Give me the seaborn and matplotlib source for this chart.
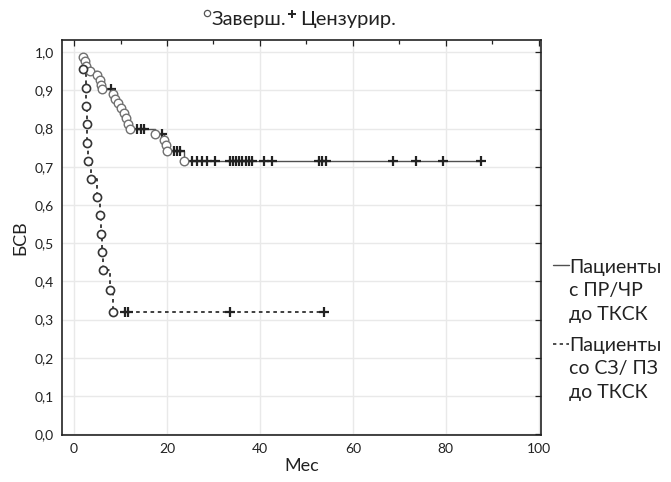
import matplotlib
matplotlib.use("Agg")
import matplotlib.pyplot as plt
from matplotlib.lines import Line2D
from matplotlib.ticker import MultipleLocator, FuncFormatter
import seaborn as sns
import pandas as pd

# ---- data ----
g1_event_t = [2.0, 2.3, 2.6, 3.4, 5.0, 5.6, 5.8, 6.0, 8.4, 8.9, 9.5, 10.1, 10.7, 11.2, 11.6, 12.0,
              17.5, 19.3, 19.7, 20.1, 23.6]
g1_event_s = [0.988, 0.976, 0.964, 0.952, 0.940, 0.928, 0.915, 0.903, 0.890, 0.878, 0.866, 0.853,
              0.840, 0.827, 0.813, 0.800, 0.785, 0.770, 0.756, 0.742, 0.714]
g1_cens_t = [8.0, 13.6, 14.3, 15.0, 19.0, 21.4, 22.1, 22.8, 25.4, 26.4, 27.5, 28.6, 30.4, 33.6, 34.2,
             34.8, 35.4, 36.1, 36.9, 37.6, 38.3, 40.8, 42.6, 52.7, 53.4, 54.2, 68.6, 73.7, 79.5, 87.6]
g1_cens_s = [0.903, 0.800, 0.800, 0.800, 0.785, 0.742, 0.742, 0.742, 0.714, 0.714, 0.714, 0.714, 0.714,
             0.714, 0.714, 0.714, 0.714, 0.714, 0.714, 0.714, 0.714, 0.714, 0.714, 0.714, 0.714, 0.714,
             0.714, 0.714, 0.714, 0.714]
g1_end_t = 87.6

g2_event_t = [1.9, 2.6, 2.6, 2.7, 2.8, 2.9, 3.6, 4.9, 5.6, 5.8, 6.0, 6.2, 7.8, 8.3]
g2_event_s = [0.955, 0.907, 0.859, 0.811, 0.763, 0.715, 0.668, 0.621, 0.573, 0.525, 0.477, 0.431,
              0.377, 0.321]
g2_cens_t = [11.0, 11.7, 33.6, 53.7]
g2_cens_s = [0.321, 0.321, 0.321, 0.321]
g2_end_t = 53.7

group_labels = ["Пациенты\nс ПР/ЧР\nдо ТКСК", "Пациенты\nсо СЗ/ ПЗ\nдо ТКСК"]
title_done = "Заверш."
title_cens = "Цензурир."
x_label = "Мес"
y_label = "БСВ"

# ---- style ----
sns.set_theme(style="white")
plt.rcParams['font.family'] = ['Lato', 'DejaVu Sans']

W, H = 671, 482
fig = plt.figure(figsize=(W / 100, H / 100), dpi=100)
ax = fig.add_axes([62 / W, 1 - 434.5 / H, (541 - 62) / W, (434.5 - 40) / H])


def curve(ts, ss, end_t):
    return pd.DataFrame({"t": list(ts) + [end_t], "s": list(ss) + [ss[-1]]})


c1 = curve(g1_event_t, g1_event_s, g1_end_t)
c2 = curve(g2_event_t, g2_event_s, g2_end_t)

sns.lineplot(data=c1, x="t", y="s", ax=ax, estimator=None, sort=False,
             drawstyle="steps-post", color="#505050", linewidth=1.0, zorder=3)
sns.lineplot(data=c2, x="t", y="s", ax=ax, estimator=None, sort=False,
             drawstyle="steps-post", color="#303030", linewidth=1.3,
             dashes=False, linestyle=(0, (2, 2)), zorder=3)

# censored marks
sns.scatterplot(x=g1_cens_t, y=g1_cens_s, ax=ax, marker="+", s=55, color="#222222",
                linewidth=1.6, zorder=4)
sns.scatterplot(x=g2_cens_t, y=g2_cens_s, ax=ax, marker="+", s=55, color="#222222",
                linewidth=1.6, zorder=4)
# completed marks
sns.scatterplot(x=g1_event_t, y=g1_event_s, ax=ax, marker="o", s=38, facecolor="white",
                edgecolor="#707070", linewidth=1.0, zorder=5)
sns.scatterplot(x=g2_event_t, y=g2_event_s, ax=ax, marker="o", s=34, facecolor="white",
                edgecolor="#353535", linewidth=1.2, zorder=5)

ax.set_xlim(-2.6, 100.5)
ax.set_ylim(-0.001, 1.032)
ax.xaxis.set_major_locator(MultipleLocator(20))
ax.xaxis.set_minor_locator(MultipleLocator(10))
ax.yaxis.set_major_locator(MultipleLocator(0.1))
ax.yaxis.set_major_formatter(FuncFormatter(lambda v, p: f"{v:.1f}".replace(".", ",")))
ax.tick_params(axis="both", which="both", direction="in", top=True, right=True,
               labelsize=10, colors="#222222", pad=6)
ax.tick_params(which="major", length=4, width=0.9)
ax.tick_params(which="minor", length=3, width=0.9)
ax.grid(True, which="major", color="#e9e9e9", linewidth=1.0)
for sp in ax.spines.values():
    sp.set_color("#222222")
    sp.set_linewidth(1.2)

ax.set_xlabel(x_label, fontsize=13, color="#222222", labelpad=2)
ax.set_ylabel(y_label, fontsize=13, color="#222222", labelpad=4)

# title legend, laid out piece by piece
renderer = fig.canvas.get_renderer()
ty = 1 - 19 / H
x_cur = 207
fig.add_artist(Line2D([x_cur / W], [1 - 13 / H], marker="o", markersize=4.5, markerfacecolor="white",
                      markeredgecolor="#555555", markeredgewidth=0.9, transform=fig.transFigure))
x_cur += 5
t1 = fig.text(x_cur / W, ty, title_done, fontsize=14.5, va="center", ha="left", color="#222222")
x_cur = t1.get_window_extent(renderer).x1 + 5
fig.add_artist(Line2D([x_cur / W], [1 - 14 / H], marker="+", markersize=6, markeredgewidth=1.4,
                      color="#222222", transform=fig.transFigure))
x_cur += 8
fig.text(x_cur / W, ty, title_cens, fontsize=14.5, va="center", ha="left", color="#222222")

# side legend
fig.add_artist(Line2D([553 / W, 569 / W], [1 - 265 / H, 1 - 265 / H], color="#505050",
                      linewidth=1.0, transform=fig.transFigure))
fig.text(569 / W, 1 - 259 / H, group_labels[0], fontsize=14, va="top", ha="left",
         linespacing=1.45, color="#222222")
fig.add_artist(Line2D([553 / W, 569 / W], [1 - 344 / H, 1 - 344 / H], color="#303030",
                      linewidth=1.2, linestyle=(0, (2, 2)), transform=fig.transFigure))
fig.text(569 / W, 1 - 337 / H, group_labels[1], fontsize=14, va="top", ha="left",
         linespacing=1.45, color="#222222")

fig.savefig("out.png", dpi=100)
